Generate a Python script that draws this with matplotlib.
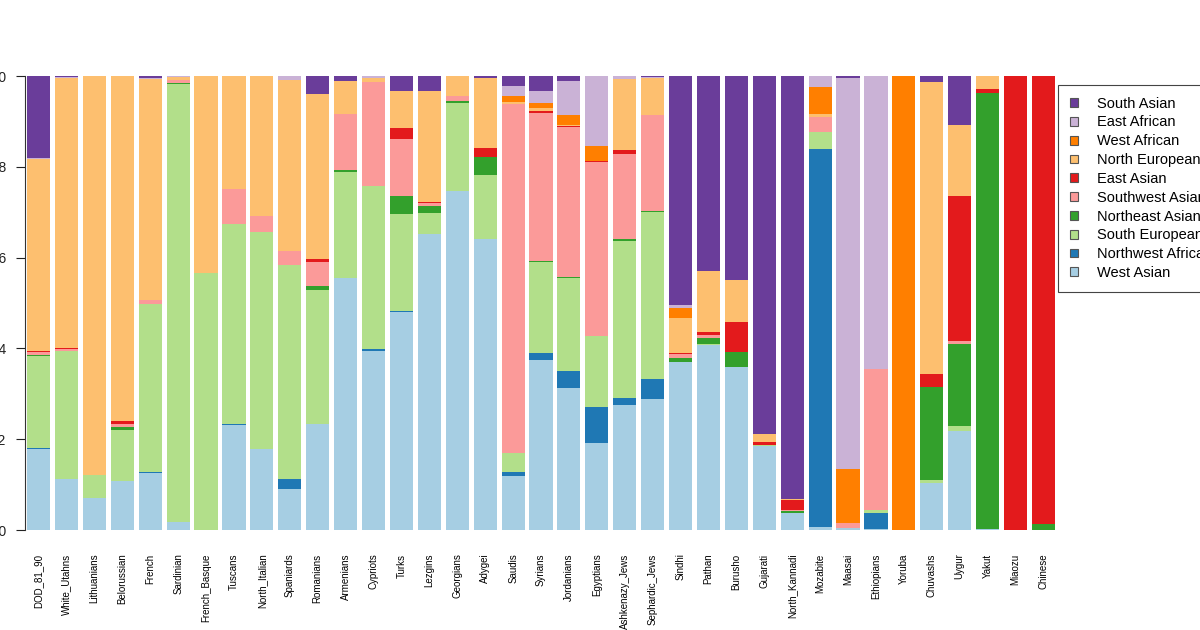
import numpy as np
import matplotlib
matplotlib.use("Agg")
import matplotlib.pyplot as plt
from matplotlib.patches import Patch

plt.rcParams['font.family'] = ['Liberation Sans', 'DejaVu Sans']

populations = ['DOD_81_90', 'White_Utahns', 'Lithuanians', 'Belorussian', 'French',
               'Sardinian', 'French_Basque', 'Tuscans', 'North_Italian', 'Spaniards',
               'Romanians', 'Armenians', 'Cypriots', 'Turks', 'Lezgins', 'Georgians',
               'Adygei', 'Saudis', 'Syrians', 'Jordanians', 'Egyptians', 'Ashkenazy_Jews',
               'Sephardic_Jews', 'Sindhi', 'Pathan', 'Burusho', 'Gujarati', 'North_Kannadi',
               'Mozabite', 'Maasai', 'Ethiopians', 'Yoruba', 'Chuvashs', 'Uygur', 'Yakut',
               'Miaozu', 'Chinese']

# one list per ancestry component, in stacking order (bottom -> top)
west_asian = [.178, .112, .070, .108, .125, .018, 0, .231, .178, .090,
              .234, .556, .394, .481, .653, .746, .641, .120, .375, .312,
              .192, .275, .288, .369, .407, .358, .184, .037, .007, .004,
              .003, 0, .104, .219, .003, 0, 0]
northwest_african = [.003, 0, 0, 0, .003, 0, 0, .002, 0, .022,
                     0, 0, .005, .002, 0, 0, 0, .007, .014, .039,
                     .078, .016, .045, 0, 0, 0, 0, 0, .832, 0,
                     .035, 0, 0, 0, 0, 0, 0]
south_european = [.203, .283, .051, .112, .370, .964, .565, .440, .478, .472,
                  .295, .233, .359, .212, .046, .194, .141, .043, .201, .203,
                  .158, .346, .368, 0, .003, 0, .003, 0, .038, 0,
                  .005, 0, .006, .009, 0, 0, 0]
northeast_asian = [.002, 0, 0, .007, 0, .002, 0, 0, 0, 0,
                   .009, .003, 0, .041, .015, .005, .040, 0, .003, .003,
                   0, .003, .002, .009, .014, .033, 0, .004, 0, 0,
                   0, 0, .204, .182, .959, 0, .013]
southwest_asian = [.006, .004, 0, .007, .008, .008, 0, .079, .036, .031,
                   .052, .124, .229, .126, .006, .012, 0, .768, .325, .330,
                   .382, .188, .210, .010, .006, 0, 0, .003, .033, .011,
                   .312, 0, 0, .006, 0, 0, 0]
east_asian = [.002, .001, 0, .005, 0, 0, 0, 0, 0, 0,
              .007, 0, 0, .024, .002, 0, .019, 0, .004, .003,
              .002, .008, .002, .002, .006, .068, .006, .022, 0, 0,
              0, 0, .030, .320, .009, 1.0, .987]
north_european = [.424, .595, .879, .761, .487, .005, .435, .248, .308, .376,
                  .364, .073, .009, .082, .246, .043, .155, .005, .007, .002,
                  0, .158, .080, .076, .135, .091, .018, .002, .006, 0,
                  0, 0, .643, .155, .029, 0, 0]
west_african = [0, 0, 0, 0, 0, 0, 0, 0, 0, 0,
                0, 0, 0, 0, 0, 0, 0, .013, .012, .021,
                .034, 0, 0, .023, 0, 0, 0, 0, .059, .119,
                0, 1.0, 0, 0, 0, 0, 0]
east_african = [.001, .003, 0, 0, .002, .003, 0, 0, 0, .009,
                0, 0, .004, 0, 0, 0, 0, .022, .027, .076,
                .153, .006, .002, .007, 0, 0, 0, 0, .025, .861,
                .645, 0, 0, 0, 0, 0, 0]
south_asian = [.181, .002, 0, 0, .005, 0, 0, 0, 0, 0,
               .039, .011, 0, .032, .032, 0, .004, .022, .032, .011,
               .001, 0, .003, .504, .429, .450, .789, .932, 0, .005,
               0, 0, .013, .109, 0, 0, 0]

components = ['West Asian', 'Northwest African', 'South European', 'Northeast Asian',
              'Southwest Asian', 'East Asian', 'North European', 'West African',
              'East African', 'South Asian']
values = [west_asian, northwest_african, south_european, northeast_asian,
          southwest_asian, east_asian, north_european, west_african,
          east_african, south_asian]
colors = ['#A6CEE3', '#1F78B4', '#B2DF8A', '#33A02C', '#FB9A99',
          '#E31A1C', '#FDBF6F', '#FF7F00', '#CAB2D6', '#6A3D9A']

W, H = 1200, 630
fig = plt.figure(figsize=(12, 6.3), dpi=100)
ax = fig.add_axes([25 / W, 100 / H, 1032 / W, 454 / H])

x = np.arange(len(populations))
bottom = np.zeros(len(populations))
for name, vals, col in zip(components, values, colors):
    vals = np.array(vals)
    ax.bar(x, vals, width=0.83, bottom=bottom, color=col, linewidth=0)
    bottom += vals

ax.set_xlim(-0.487, 36.487)
ax.set_ylim(0, 1)
for s in ['top', 'right', 'bottom']:
    ax.spines[s].set_visible(False)
ax.spines['left'].set_color('#333333')
ax.set_yticks([0, 0.2, 0.4, 0.6, 0.8, 1.0])
ax.set_yticklabels(['0.0', '0.2', '0.4', '0.6', '0.8', '1.0'])
ax.tick_params(axis='y', length=6.5, width=0.8, pad=7, labelsize=10, colors='#222222')
ax.set_xticks(x)
ax.set_xticklabels(populations, rotation=90, fontsize=7, va='top')
ax.tick_params(axis='x', length=0, pad=17)

handles = [Patch(facecolor=c, edgecolor='#555555', linewidth=0.8) for c in colors]
leg = fig.legend(handles[::-1], components[::-1], loc='upper left',
                 bbox_to_anchor=(1058 / W, 1 - 85 / H), borderaxespad=0,
                 fontsize=10.5, frameon=True, fancybox=False, framealpha=1,
                 edgecolor='#444444', handlelength=0.55, handleheight=0.55,
                 handletextpad=1.35, labelspacing=0.33, borderpad=0.8)
leg.get_frame().set_linewidth(0.8)

fig.savefig('out.png', dpi=100)
